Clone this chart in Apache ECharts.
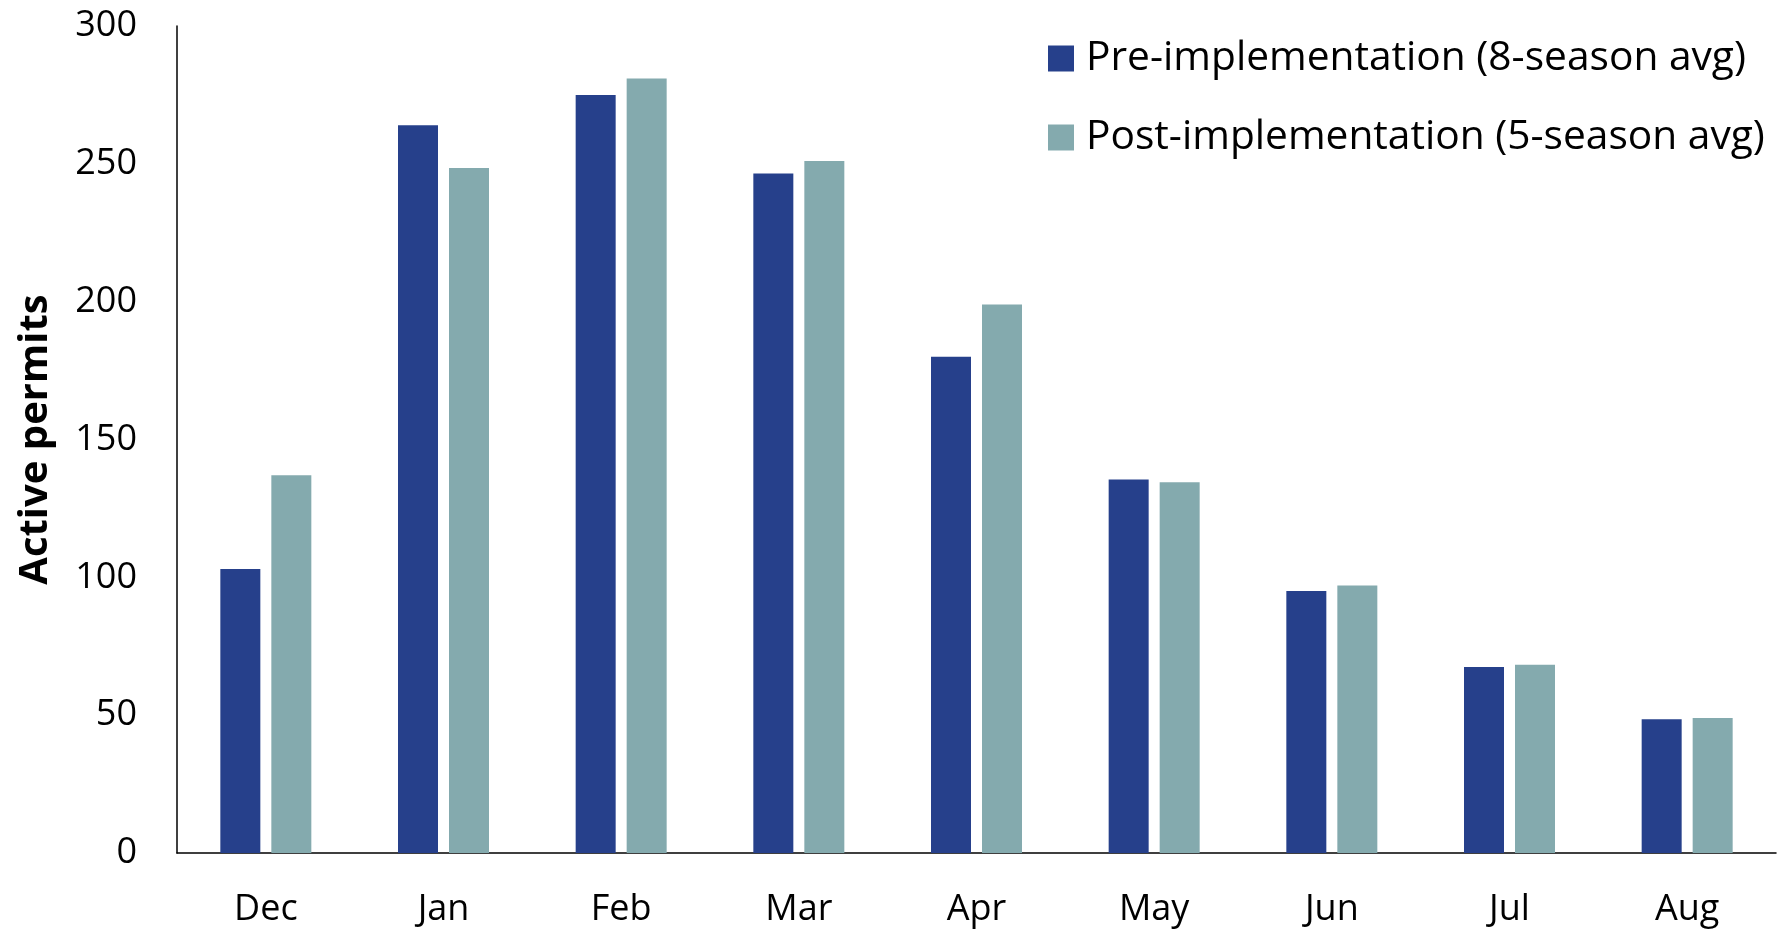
<!DOCTYPE html>
<html>
<head>
<meta charset="utf-8">
<script src="https://cdn.jsdelivr.net/npm/echarts@6/dist/echarts.min.js"></script>
<style>
html,body{margin:0;padding:0;background:#fff;}
#chart{width:1778px;height:930px;}
</style>
</head>
<body>
<div id="chart"></div>
<script>
const months = ['Dec','Jan','Feb','Mar','Apr','May','Jun','Jul','Aug'];
const preValues = [103, 264, 275, 246.5, 180, 135.5, 95, 67.5, 48.5];
const postValues = [137, 248.5, 281, 251, 199, 134.5, 97, 68.3, 49];
const seriesNames = ['Pre-implementation (8-season avg)', 'Post-implementation (5-season avg)'];
const yTicks = [0, 50, 100, 150, 200, 250, 300];

const FONT = "'Open Sans', 'Noto Sans', sans-serif";
const chart = echarts.init(document.getElementById('chart'));
chart.setOption({
  animation: false,
  textStyle: { fontFamily: FONT },
  grid: { left: 177, right: 2, top: 26, bottom: 77, containLabel: false, outerBoundsMode: 'none' },
  legend: {
    orient: 'vertical',
    left: 1043,
    top: 33,
    itemWidth: 26,
    itemHeight: 26,
    itemGap: 38,
    icon: 'rect',
    textStyle: { fontSize: 40.7, color: '#000', fontFamily: FONT, padding: [0,0,0,7] },
    data: seriesNames
  },
  xAxis: {
    type: 'category',
    data: months,
    axisLine: { show: true, lineStyle: { color: '#000', width: 1.5 } },
    axisTick: { show: false },
    axisLabel: { fontSize: 36, color: '#000', margin: 39, fontFamily: FONT }
  },
  yAxis: {
    type: 'value',
    min: yTicks[0],
    max: yTicks[yTicks.length - 1],
    interval: 50,
    name: 'Active permits',
    nameLocation: 'middle',
    nameGap: 121,
    nameTextStyle: { fontSize: 40, fontWeight: 'bold', color: '#000', fontFamily: FONT },
    axisLine: { show: true, lineStyle: { color: '#000', width: 1.5 } },
    axisTick: { show: false },
    splitLine: { show: false },
    axisLabel: { fontSize: 36, color: '#000', margin: 40, fontFamily: FONT }
  },
  series: [
    {
      name: seriesNames[0],
      type: 'bar',
      data: preValues,
      barWidth: 40,
      barGap: '27.5%',
      itemStyle: { color: '#26408B' }
    },
    {
      name: seriesNames[1],
      type: 'bar',
      data: postValues,
      barWidth: 40,
      barGap: '27.5%',
      itemStyle: { color: '#84AAAE' }
    }
  ]
});
</script>
</body>
</html>
